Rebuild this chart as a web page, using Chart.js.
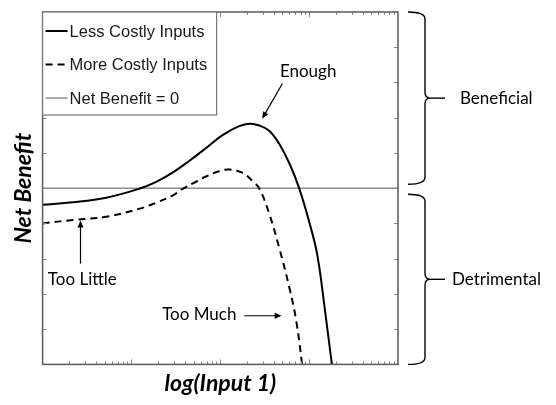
<!DOCTYPE html>
<html>
<head>
<meta charset="utf-8">
<script src="https://cdn.jsdelivr.net/npm/chart.js"></script>
<style>
html, body { margin: 0; padding: 0; background: #fff; }
#wrap { width: 556px; height: 405px; }
</style>
</head>
<body>
<div id="wrap"><canvas id="myChart"></canvas></div>
<script>
// values (x = Input 1 on a log axis, y = net benefit)
var seriesNames = ['Less Costly Inputs', 'More Costly Inputs', 'Net Benefit = 0'];
var lessCostlyX = [1, 2.2, 5.2, 12.4, 19, 29, 45, 70, 105, 163, 213, 275, 355, 460, 600, 770, 1000, 1230, 1475, 1800, 2050];
var lessCostlyY = [-0.47, -0.4, -0.27, -0.01, 0.18, 0.44, 0.78, 1.15, 1.5, 1.76, 1.83, 1.78, 1.63, 1.26, 0.7, 0.01, -0.95, -1.87, -3.28, -4.99, -6];
var moreCostlyX = [1, 2.2, 5.2, 12.4, 19, 29, 37, 54, 70, 97, 127, 177, 229, 275, 355, 460, 600, 715, 830, 900];
var moreCostlyY = [-1.0, -0.9, -0.81, -0.58, -0.41, -0.21, -0.03, 0.19, 0.34, 0.48, 0.53, 0.44, 0.21, -0.01, -0.72, -1.69, -2.83, -3.76, -4.99, -6];
var zeroX = [1, 10000];
var zeroY = [0, 0];
var xMin = 1, xMax = 10000;
var yMin = -5, yMax = 5;
var braceLabels = ['Beneficial', 'Detrimental'];
var noteLabels = ['Enough', 'Too Little', 'Too Much'];

function pts(xs, ys) {
  return xs.map(function (x, i) { return {x: x, y: ys[i]}; });
}

var TEXT_FONT = '17px Lato, "Open Sans", sans-serif';
var LEGEND_FONT = '16.5px "Liberation Sans", Arial, sans-serif';

function arrow(ctx, x1, y1, x2, y2) {
  var a = Math.atan2(y2 - y1, x2 - x1);
  var len = 7, w = 3;
  ctx.beginPath();
  ctx.moveTo(x1, y1);
  ctx.lineTo(x2 - Math.cos(a) * len * 0.6, y2 - Math.sin(a) * len * 0.6);
  ctx.stroke();
  ctx.beginPath();
  ctx.moveTo(x2, y2);
  ctx.lineTo(x2 - Math.cos(a) * len + Math.sin(a) * w, y2 - Math.sin(a) * len - Math.cos(a) * w);
  ctx.lineTo(x2 - Math.cos(a) * len - Math.sin(a) * w, y2 - Math.sin(a) * len + Math.cos(a) * w);
  ctx.closePath();
  ctx.fill();
}

function brace(ctx, x, y1, y2) {
  var ym = (y1 + y2) / 2;
  var xv = x + 17, xc = x + 22;
  ctx.beginPath();
  ctx.moveTo(x, y1);
  ctx.quadraticCurveTo(xv, y1, xv, y1 + 7);
  ctx.lineTo(xv, ym - 6);
  ctx.quadraticCurveTo(xv, ym, xc, ym);
  ctx.quadraticCurveTo(xv, ym, xv, ym + 6);
  ctx.lineTo(xv, y2 - 7);
  ctx.quadraticCurveTo(xv, y2, x, y2);
  ctx.stroke();
  ctx.beginPath();
  ctx.moveTo(xc, ym);
  ctx.lineTo(xc + 15, ym);
  ctx.stroke();
  return ym;
}

var decorPlugin = {
  id: 'decor',
  afterDatasetsDraw: function (chart) {
    var ctx = chart.ctx, a = chart.chartArea;
    var xs = chart.scales.x, ys = chart.scales.y;
    ctx.save();

    // tick marks on all four sides
    ctx.strokeStyle = '#8a8a8a';
    ctx.lineWidth = 1;
    var d, m, v, p, L;
    for (d = 0; d < 4; d++) {
      for (m = 1; m <= 9; m++) {
        v = m * Math.pow(10, d);
        if (v <= xMin || v >= xMax) continue;
        p = Math.round(xs.getPixelForValue(v)) + 0.5;
        L = m === 1 ? 5 : 3;
        ctx.beginPath();
        ctx.moveTo(p, a.bottom); ctx.lineTo(p, a.bottom - L);
        ctx.moveTo(p, a.top); ctx.lineTo(p, a.top + L);
        ctx.stroke();
      }
    }
    for (v = yMin + 1; v < yMax; v++) {
      p = Math.round(ys.getPixelForValue(v)) + 0.5;
      ctx.beginPath();
      ctx.moveTo(a.left, p); ctx.lineTo(a.left + 4, p);
      ctx.moveTo(a.right, p); ctx.lineTo(a.right - 4, p);
      ctx.stroke();
    }

    // plot frame
    ctx.strokeStyle = '#5a5a5a';
    ctx.lineWidth = 1.5;
    ctx.strokeRect(a.left, a.top, a.right - a.left, a.bottom - a.top);

    // legend box inside top-left
    var ds = chart.data.datasets;
    var lx = a.left, ly = a.top, lw = 174, lh = 103;
    ctx.fillStyle = '#fff';
    ctx.fillRect(lx, ly, lw, lh);
    ctx.strokeStyle = '#777';
    ctx.lineWidth = 1.2;
    ctx.strokeRect(lx, ly, lw, lh);
    ctx.font = LEGEND_FONT;
    ctx.textBaseline = 'middle';
    ctx.textAlign = 'left';
    ds.forEach(function (s, i) {
      var yy = ly + 19 + i * 33.5;
      ctx.strokeStyle = s.borderColor;
      ctx.lineWidth = s.borderWidth;
      ctx.setLineDash(s.borderDash || []);
      ctx.beginPath();
      ctx.moveTo(lx + 3, yy); ctx.lineTo(lx + 25, yy);
      ctx.stroke();
      ctx.setLineDash([]);
      ctx.fillStyle = '#1a1a1a';
      ctx.fillText(s.label, lx + 27, yy + 1);
    });

    // annotations
    ctx.fillStyle = '#000';
    ctx.strokeStyle = '#000';
    ctx.lineWidth = 1.2;
    ctx.font = TEXT_FONT;
    ctx.textAlign = 'center';
    ctx.fillText(noteLabels[0], xs.getPixelForValue(975), ys.getPixelForValue(3.31));
    arrow(ctx, xs.getPixelForValue(500), ys.getPixelForValue(2.97), xs.getPixelForValue(296), ys.getPixelForValue(1.97));
    ctx.fillText(noteLabels[1], xs.getPixelForValue(2.8), ys.getPixelForValue(-2.6));
    arrow(ctx, xs.getPixelForValue(2.67), ys.getPixelForValue(-2.14), xs.getPixelForValue(2.67), ys.getPixelForValue(-0.92));
    ctx.fillText(noteLabels[2], xs.getPixelForValue(58), ys.getPixelForValue(-3.59));
    arrow(ctx, xs.getPixelForValue(186), ys.getPixelForValue(-3.62), xs.getPixelForValue(490), ys.getPixelForValue(-3.62));

    // braces on the right
    ctx.lineWidth = 1.4;
    var bx = a.right + 10;
    var z = ys.getPixelForValue(0);
    var m1 = brace(ctx, bx, a.top, z - 4);
    var m2 = brace(ctx, bx, z + 6, a.bottom);
    ctx.textAlign = 'left';
    ctx.fillText(braceLabels[0], bx + 52, m1);
    ctx.fillText(braceLabels[1], bx + 44, m2);
    ctx.restore();
  }
};

var ctx = document.getElementById('myChart').getContext('2d');
var chart = new Chart(ctx, {
  type: 'line',
  data: {
    datasets: [{
      label: seriesNames[0],
      data: pts(lessCostlyX, lessCostlyY),
      borderColor: '#000',
      borderWidth: 2,
      pointRadius: 0,
      tension: 0.4
    }, {
      label: seriesNames[1],
      data: pts(moreCostlyX, moreCostlyY),
      borderColor: '#000',
      borderWidth: 2,
      borderDash: [7, 5],
      pointRadius: 0,
      tension: 0.4
    }, {
      label: seriesNames[2],
      data: pts(zeroX, zeroY),
      borderColor: '#8c8c8c',
      borderWidth: 1.5,
      pointRadius: 0
    }]
  },
  options: {
    responsive: true,
    maintainAspectRatio: false,
    animation: false,
    events: [],
    layout: { padding: { left: 10, right: 158, top: 12, bottom: 6 } },
    plugins: { legend: { display: false }, tooltip: { enabled: false } },
    scales: {
      x: {
        type: 'logarithmic',
        min: xMin, max: xMax,
        grid: { display: false, drawTicks: false },
        border: { display: false },
        ticks: { display: false },
        title: {
          display: true, text: 'log(Input 1)', color: '#000',
          font: { family: 'Lato', size: 23, weight: 'bold', style: 'italic' },
          padding: { top: 5, bottom: 2 }
        }
      },
      y: {
        min: yMin, max: yMax,
        grid: { display: false, drawTicks: false },
        border: { display: false },
        ticks: { display: false },
        title: {
          display: true, text: 'Net Benefit', color: '#000',
          font: { family: 'Lato', size: 23, weight: 'bold', style: 'italic' },
          padding: { top: 0, bottom: 5 }
        }
      }
    }
  },
  plugins: [decorPlugin]
});
</script>
</body>
</html>
